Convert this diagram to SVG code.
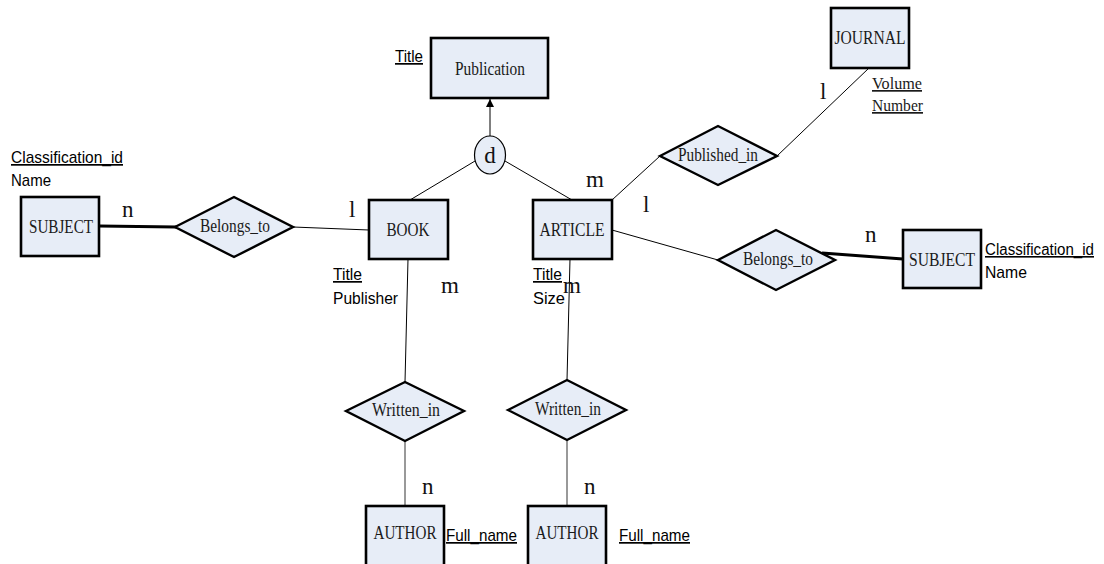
<svg xmlns="http://www.w3.org/2000/svg" width="1104" height="564" viewBox="0 0 1104 564">
<defs>
<style>
.ent{fill:#E7EDF7;stroke:#000;stroke-width:2.6}
.rel{fill:#E7EDF7;stroke:#000;stroke-width:2.4}
.en{font-family:"Liberation Serif","Times New Roman",serif;font-size:19px;fill:#1a1a1a;text-anchor:middle}
.at{font-family:"Liberation Sans",Arial,sans-serif;font-size:17px;fill:#000}
.ats{font-family:"Liberation Serif","Times New Roman",serif;font-size:17px;fill:#1a1a1a}
.u{text-decoration:underline}
.card{font-family:"Liberation Serif","Times New Roman",serif;font-size:23px;fill:#111}
.ln{stroke:#000;stroke-width:1;fill:none}
.thick{stroke:#000;stroke-width:3;fill:none}
.gray{stroke:#777;stroke-width:1.5;fill:none}
</style>
<marker id="arr" markerWidth="8" markerHeight="11" refX="8" refY="4" orient="auto" markerUnits="userSpaceOnUse" viewBox="0 0 8 8">
<path d="M0,0 L8,4 L0,8 z" fill="#000"/>
</marker>
</defs>
<rect width="1104" height="564" fill="#fff"/>

<g id="connectors">
<line class="thick" x1="99" y1="226" x2="176" y2="227"/>
<line class="ln" x1="293" y1="227" x2="369" y2="230"/>
<line class="ln" x1="475" y1="161" x2="410" y2="200"/>
<line class="ln" x1="505" y1="161" x2="572" y2="200"/>
<line class="ln" x1="490" y1="136" x2="490" y2="99" marker-end="url(#arr)"/>
<line class="ln" x1="612" y1="200" x2="660" y2="156"/>
<line class="ln" x1="777" y1="156" x2="869" y2="68"/>
<line class="ln" x1="612" y1="230" x2="718" y2="260"/>
<line class="thick" x1="822" y1="253" x2="903" y2="259"/>
<line class="ln" x1="408" y1="259" x2="405" y2="382"/>
<line class="ln" x1="570" y1="259" x2="567" y2="380"/>
<line class="gray" x1="405" y1="441" x2="405" y2="506"/>
<line class="gray" x1="567" y1="440" x2="567" y2="506"/>
</g>

<g id="publication">
<rect class="ent" x="431" y="38" width="117" height="60"/>
<text class="en" x="490" y="75" textLength="70" lengthAdjust="spacingAndGlyphs">Publication</text>
<text class="at u" x="395" y="62" textLength="28" lengthAdjust="spacingAndGlyphs">Title</text>
</g>

<g id="disjoint">
<ellipse cx="490" cy="155" rx="15.5" ry="19" fill="#E7EDF7" stroke="#000" stroke-width="1.2"/>
<text x="490" y="163" font-family="Liberation Serif, serif" font-size="23" text-anchor="middle" fill="#111">d</text>
</g>

<g id="journal">
<rect class="ent" x="831" y="8" width="78" height="60"/>
<text class="en" x="870" y="44" textLength="71" lengthAdjust="spacingAndGlyphs">JOURNAL</text>
<text class="ats u" x="872" y="89" textLength="50" lengthAdjust="spacingAndGlyphs">Volume</text>
<text class="ats u" x="872" y="111" textLength="51" lengthAdjust="spacingAndGlyphs">Number</text>
</g>

<g id="published_in">
<polygon class="rel" points="660,156 718,126 777,156 718,185"/>
<text class="en" x="718" y="161" textLength="80" lengthAdjust="spacingAndGlyphs">Published_in</text>
</g>

<g id="subject_left">
<rect class="ent" x="21" y="197" width="78" height="59"/>
<text class="en" x="61" y="233" textLength="64" lengthAdjust="spacingAndGlyphs">SUBJECT</text>
<text class="at u" x="11" y="163" textLength="112" lengthAdjust="spacingAndGlyphs">Classification_id</text>
<text class="at" x="11" y="186" textLength="40" lengthAdjust="spacingAndGlyphs">Name</text>
</g>

<g id="belongs_to_left">
<polygon class="rel" points="175,227 234,197 293,227 234,257"/>
<text class="en" x="235" y="232" textLength="70" lengthAdjust="spacingAndGlyphs">Belongs_to</text>
</g>

<g id="book">
<rect class="ent" x="369" y="200" width="79" height="59"/>
<text class="en" x="408" y="236" textLength="43" lengthAdjust="spacingAndGlyphs">BOOK</text>
<text class="at u" x="333" y="280" textLength="29" lengthAdjust="spacingAndGlyphs">Title</text>
<text class="at" x="333" y="304" textLength="65" lengthAdjust="spacingAndGlyphs">Publisher</text>
</g>

<g id="article">
<rect class="ent" x="533" y="200" width="79" height="59"/>
<text class="en" x="572" y="236" textLength="65" lengthAdjust="spacingAndGlyphs">ARTICLE</text>
<text class="at u" x="533" y="280" textLength="29" lengthAdjust="spacingAndGlyphs">Title</text>
<text class="at" x="533" y="304" textLength="32" lengthAdjust="spacingAndGlyphs">Size</text>
</g>

<g id="belongs_to_right">
<polygon class="rel" points="718,260 776,230 835,260 776,290"/>
<text class="en" x="778" y="265" textLength="70" lengthAdjust="spacingAndGlyphs">Belongs_to</text>
</g>

<g id="subject_right">
<rect class="ent" x="903" y="230" width="78" height="58"/>
<text class="en" x="942" y="266" textLength="66" lengthAdjust="spacingAndGlyphs">SUBJECT</text>
<text class="at u" x="985" y="255" font-size="16" textLength="109" lengthAdjust="spacingAndGlyphs" style="font-size:16px">Classification_id</text>
<text class="at" x="985" y="278" textLength="42" lengthAdjust="spacingAndGlyphs">Name</text>
</g>

<g id="written_in_left">
<polygon class="rel" points="346,411 405,382 464,411 405,441"/>
<text class="en" x="406" y="416" textLength="68" lengthAdjust="spacingAndGlyphs">Written_in</text>
</g>

<g id="written_in_right">
<polygon class="rel" points="508,410 567,380 626,410 567,440"/>
<text class="en" x="568" y="415" textLength="66" lengthAdjust="spacingAndGlyphs">Written_in</text>
</g>

<g id="author_left">
<rect class="ent" x="366" y="506" width="78" height="70"/>
<text class="en" x="405" y="539" textLength="63" lengthAdjust="spacingAndGlyphs">AUTHOR</text>
<text class="at u" x="446" y="541" textLength="71" lengthAdjust="spacingAndGlyphs">Full_name</text>
</g>

<g id="author_right">
<rect class="ent" x="528" y="506" width="78" height="70"/>
<text class="en" x="567" y="539" textLength="63" lengthAdjust="spacingAndGlyphs">AUTHOR</text>
<text class="at u" x="619" y="541" textLength="71" lengthAdjust="spacingAndGlyphs">Full_name</text>
</g>

<g id="cardinalities">
<text class="card" x="122" y="217">n</text>
<text class="card" x="349" y="217">l</text>
<text class="card" x="441" y="293">m</text>
<text class="card" x="563" y="293">m</text>
<text class="card" x="586" y="187">m</text>
<text class="card" x="643" y="212">l</text>
<text class="card" x="820" y="99">l</text>
<text class="card" x="865" y="242">n</text>
<text class="card" x="422" y="494">n</text>
<text class="card" x="584" y="494">n</text>
</g>
</svg>
